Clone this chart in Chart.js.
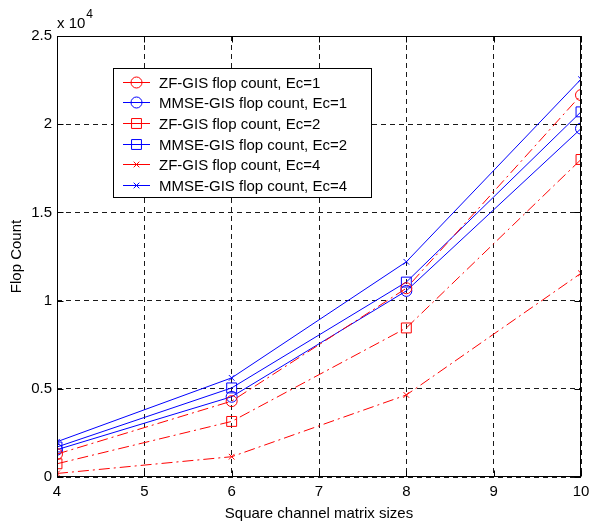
<!DOCTYPE html>
<html>
<head>
<meta charset="utf-8">
<script src="https://cdn.jsdelivr.net/npm/chart.js@4/dist/chart.umd.min.js"></script>
<style>
html,body{margin:0;padding:0;background:#fff;}
#wrap{width:589px;height:524px;position:relative;}
</style>
</head>
<body>
<div id="wrap"><canvas id="c" width="589" height="524"></canvas></div>
<script>
const sizes = [4, 6, 8, 10];
const zfEc1 = [1300, 4300, 10700, 21650];
const mmseEc1 = [1550, 4550, 10550, 19750];
const zfEc2 = [750, 3150, 8450, 18000];
const mmseEc2 = [1700, 5050, 11050, 20700];
const zfEc4 = [200, 1150, 4650, 11550];
const mmseEc4 = [2000, 5620, 12200, 22550];
const xTicks = [4, 5, 6, 7, 8, 9, 10];
const yTicks = [0, 5000, 10000, 15000, 20000, 25000];
const seriesNames = [
  'ZF-GIS flop count, Ec=1',
  'MMSE-GIS flop count, Ec=1',
  'ZF-GIS flop count, Ec=2',
  'MMSE-GIS flop count, Ec=2',
  'ZF-GIS flop count, Ec=4',
  'MMSE-GIS flop count, Ec=4'
];
const seriesValues = [zfEc1, mmseEc1, zfEc2, mmseEc2, zfEc4, mmseEc4];

const FONT = '"Liberation Sans", Arial, Helvetica, sans-serif';
const RED = '#ff0000', BLUE = '#0000ff';
const ZF_DASH = [11, 4, 2, 4];
const styles = [
  {c: RED, dash: ZF_DASH, p: 'circle', r: 5.5},
  {c: BLUE, dash: [], p: 'circle', r: 5.5},
  {c: RED, dash: ZF_DASH, p: 'rect', r: 7},
  {c: BLUE, dash: [], p: 'rect', r: 7},
  {c: RED, dash: ZF_DASH, p: 'crossRot', r: 4},
  {c: BLUE, dash: [], p: 'crossRot', r: 4}
];

const datasets = seriesValues.map((vals, i) => ({
  label: seriesNames[i],
  data: sizes.map((s, j) => ({x: s, y: vals[j]})),
  borderColor: styles[i].c,
  backgroundColor: 'rgba(0,0,0,0)',
  borderWidth: 1,
  borderDash: styles[i].dash,
  pointStyle: styles[i].p,
  pointRadius: styles[i].r,
  pointHoverRadius: styles[i].r,
  pointBorderColor: styles[i].c,
  pointBackgroundColor: 'rgba(0,0,0,0)',
  pointBorderWidth: 1,
  tension: 0,
  fill: false
}));

function drawMarker(ctx, style, x, y, r, color) {
  ctx.save();
  ctx.strokeStyle = color;
  ctx.lineWidth = 1;
  ctx.setLineDash([]);
  ctx.beginPath();
  if (style === 'circle') {
    ctx.arc(x, y, r, 0, Math.PI * 2);
  } else if (style === 'rect') {
    const s = r / Math.SQRT2;
    ctx.rect(x - s, y - s, 2 * s, 2 * s);
  } else {
    const o = Math.cos(Math.PI / 4) * r;
    ctx.moveTo(x - o, y - o); ctx.lineTo(x + o, y + o);
    ctx.moveTo(x - o, y + o); ctx.lineTo(x + o, y - o);
  }
  ctx.stroke();
  ctx.restore();
}

const framePlugin = {
  id: 'frame',
  afterDraw(chart) {
    const ctx = chart.ctx;
    const a = chart.chartArea;
    const xs = chart.scales.x, ys = chart.scales.y;
    ctx.save();
    ctx.strokeStyle = '#000';
    ctx.lineWidth = 1;
    ctx.setLineDash([]);
    const L = Math.round(a.left) + 0.5, R = Math.round(a.right) - 0.5;
    const T = Math.round(a.top) + 0.5, B = Math.round(a.bottom) - 0.5;
    ctx.strokeRect(L, T, R - L, B - T);
    ctx.beginPath();
    xTicks.forEach(v => {
      const px = Math.round(xs.getPixelForValue(v)) + 0.5;
      ctx.moveTo(px, B); ctx.lineTo(px, B - 6);
      ctx.moveTo(px, T); ctx.lineTo(px, T + 6);
    });
    yTicks.forEach(v => {
      const py = Math.round(ys.getPixelForValue(v)) + 0.5;
      ctx.moveTo(L, py); ctx.lineTo(L + 6, py);
      ctx.moveTo(R, py); ctx.lineTo(R - 6, py);
    });
    ctx.stroke();

    // exponent label
    ctx.fillStyle = '#000';
    ctx.textBaseline = 'alphabetic';
    ctx.textAlign = 'left';
    ctx.font = '15px ' + FONT;
    const w = ctx.measureText('x 10').width;
    ctx.fillText('x 10', a.left, 28);
    ctx.font = '12px ' + FONT;
    ctx.fillText('4', a.left + w + 1, 18);

    // legend
    const bx = 113.5, by = 68.5, bw = 258, bh = 129;
    ctx.fillStyle = '#fff';
    ctx.fillRect(bx, by, bw, bh);
    ctx.strokeStyle = '#000';
    ctx.strokeRect(bx, by, bw, bh);
    ctx.font = '15px ' + FONT;
    ctx.textBaseline = 'middle';
    seriesNames.forEach((name, i) => {
      const y = Math.round(81.5 + i * 20.7) + 0.5;
      const st = styles[i];
      ctx.save();
      ctx.strokeStyle = st.c;
      ctx.lineWidth = 1;
      ctx.setLineDash([]);
      ctx.beginPath();
      ctx.moveTo(123, y); ctx.lineTo(150, y);
      ctx.stroke();
      ctx.restore();
      drawMarker(ctx, st.p, 136.5, y, st.r, st.c);
      ctx.fillStyle = '#000';
      ctx.fillText(name, 159, y + 1);
    });
    ctx.restore();
  }
};

new Chart(document.getElementById('c'), {
  type: 'line',
  data: {datasets},
  options: {
    responsive: false,
    animation: false,
    events: [],
    layout: {padding: {left: 0, right: 7, top: 36, bottom: 0}},
    plugins: {legend: {display: false}, tooltip: {enabled: false}},
    scales: {
      x: {
        type: 'linear',
        min: 4, max: 10,
        afterFit(s) { s.height = 47; s.paddingLeft = 0; s.paddingRight = 0; },
        afterBuildTicks(s) { s.ticks = xTicks.map(v => ({value: v})); },
        ticks: {color: '#000', font: {family: FONT, size: 15}, padding: 6, maxRotation: 0, autoSkip: false},
        grid: {color: '#1a1a1a', drawTicks: false, lineWidth: 1},
        border: {display: false, dash: [5, 4]},
        title: {display: true, text: 'Square channel matrix sizes', color: '#000', font: {family: FONT, size: 15}, padding: {top: 0, bottom: 1}}
      },
      y: {
        type: 'linear',
        min: 0, max: 25000,
        afterFit(s) { s.width = 57; s.paddingTop = 0; s.paddingBottom = 0; },
        afterBuildTicks(s) { s.ticks = yTicks.map(v => ({value: v})); },
        ticks: {color: '#000', font: {family: FONT, size: 15}, padding: 5,
          callback: v => String(v / 10000)},
        grid: {color: '#1a1a1a', drawTicks: false, lineWidth: 1},
        border: {display: false, dash: [5, 4]},
        title: {display: true, text: 'Flop Count', color: '#000', font: {family: FONT, size: 15}, padding: {top: 8, bottom: 0}}
      }
    }
  },
  plugins: [framePlugin]
});
</script>
</body>
</html>
